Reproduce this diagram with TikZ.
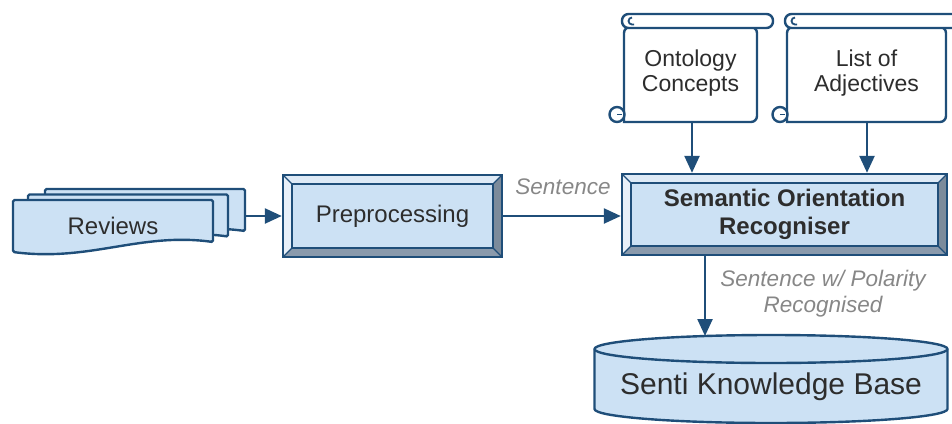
\documentclass[tikz,border=0pt]{standalone}
\usepackage{fontspec}
\setmainfont{Liberation Sans}
\usetikzlibrary{arrows.meta}

\definecolor{edge}{RGB}{31,78,121}
\definecolor{boxfill}{RGB}{204,225,244}
\definecolor{bevlight}{RGB}{222,234,246}
\definecolor{bevdark}{RGB}{138,154,172}
\definecolor{txt}{RGB}{45,45,45}
\definecolor{lbl}{RGB}{135,135,135}

% scroll: #1 name, #2 body left, #3 body right, #4 rod right end, #5 text
\newcommand\drawscroll[5]{%
  \filldraw[scrollline] (#2,27) -- (#2,122) [rounded corners=6pt] -- (#3,122) -- (#3,27) -- cycle;
  \filldraw[scrollline, rounded corners=6.5pt] ({#2-2},14) rectangle (#4,28);
  \draw[edge, line width=1.8pt] ({#2+8},17.5) arc[start angle=-90, end angle=-270, radius=3.5] -- ({#2+10},24.5);
  \filldraw[scrollline] ({#2-7},114.5) circle (7.5);
  \draw[edge, line width=1.8pt] ({#2-7},114.5) -- ({#2-2},114.5);
  \node[scrolltext] (#1) at ({(#2+#3)/2},73) {#5};
}

\begin{document}
\begin{tikzpicture}[x=1pt, y=-1pt,
  every node/.style={text=txt},
  scrollline/.style={draw=edge, fill=white, line width=2.4pt},
  scrolltext/.style={align=center, font=\fontsize{23}{25}\selectfont},
  docshape/.style={draw=edge, fill=boxfill, line width=2.4pt, rounded corners=1.5pt},
  flow/.style={draw=edge, line width=2.4pt, -{Triangle[length=17pt, width=15pt]}},
  flowlabel/.style={text=lbl, font=\fontsize{22.5}{26}\selectfont\itshape, align=center},
  bevelbox/.style={draw=edge, line width=2.4pt, fill=boxfill, inner sep=0pt,
    path picture={
      \path (path picture bounding box.north west) coordinate (bNW)
            (path picture bounding box.north east) coordinate (bNE)
            (path picture bounding box.south east) coordinate (bSE)
            (path picture bounding box.south west) coordinate (bSW);
      \path ([shift={(9pt,-9pt)}]bNW) coordinate (iNW)
            ([shift={(-9pt,-9pt)}]bNE) coordinate (iNE)
            ([shift={(-9pt,9pt)}]bSE) coordinate (iSE)
            ([shift={(9pt,9pt)}]bSW) coordinate (iSW);
      \fill[bevlight] (bNW) -- (bNE) -- (iNE) -- (iNW) -- cycle;
      \fill[bevlight!70!white] (bNW) -- (iNW) -- (iSW) -- (bSW) -- cycle;
      \fill[bevdark] (bSW) -- (bSE) -- (iSE) -- (iSW) -- cycle;
      \fill[bevdark!90!black] (bNE) -- (iNE) -- (iSE) -- (bSE) -- cycle;
      \draw[edge, line width=1.8pt] (iNW) rectangle (iSE);
      \draw[edge, line width=1.2pt] (bNW) -- (iNW) (bNE) -- (iNE) (bSE) -- (iSE) (bSW) -- (iSW);
    }},
]
\useasboundingbox (0,0) rectangle (952,423);

% stacked review documents
\foreach \dx/\dy in {32/-11, 15/-5.5, 0/0} {
  \begin{scope}[shift={(\dx,\dy)}]
    \filldraw[docshape] (13,200) -- (213,200) -- (213,242)
      .. controls (140,232) and (90,262) .. (13,252) -- cycle;
  \end{scope}
}
\node[font=\fontsize{24}{28}\selectfont] (rev) at (113,226) {Reviews};
\coordinate (revout) at (245,216);

% processing boxes
\node[bevelbox, minimum width=219pt, minimum height=82pt,
      font=\fontsize{24}{28}\selectfont] (pre) at (392.5,216) {Preprocessing};
\node[bevelbox, minimum width=325pt, minimum height=81pt, align=center,
      font=\fontsize{24}{28}\selectfont\bfseries] (sor) at (784.5,214.5)
      {Semantic Orientation\\Recogniser};

% resource scrolls
\drawscroll{ont}{624}{757}{773}{Ontology\\Concepts}
\drawscroll{adj}{787}{946}{965}{List of\\Adjectives}
\coordinate (ontout) at (692,122);
\coordinate (adjout) at (867,122);

% knowledge base cylinder (y axis points down, so angle 90 is the lower side)
\filldraw[docshape, rounded corners=0pt] (594.5,349) -- (594.5,409)
  arc[start angle=180, end angle=0, x radius=176.5, y radius=14] -- (947.5,349)
  arc[start angle=0, end angle=-180, x radius=176.5, y radius=14] -- cycle;
\draw[edge, line width=2.4pt] (594.5,349)
  arc[start angle=180, end angle=0, x radius=176.5, y radius=14];
\node[font=\fontsize{30}{34}\selectfont] (kb) at (771,387) {Senti Knowledge Base};
\coordinate (kbin) at (705,336);

% connectors
\draw[flow] (revout) -- (pre.west |- revout);
\draw[flow] (pre.east) -- (pre.east -| sor.west);
\draw[flow] (ontout) -- (ontout |- sor.north);
\draw[flow] (adjout) -- (adjout |- sor.north);
\draw[flow] (sor.south -| kbin) -- (kbin);

% connector labels
\node[flowlabel] (l1) at (563,187) {Sentence};
\node[flowlabel] (l2) at (823,294) {Sentence w/ Polarity\\Recognised};
\end{tikzpicture}
\end{document}
